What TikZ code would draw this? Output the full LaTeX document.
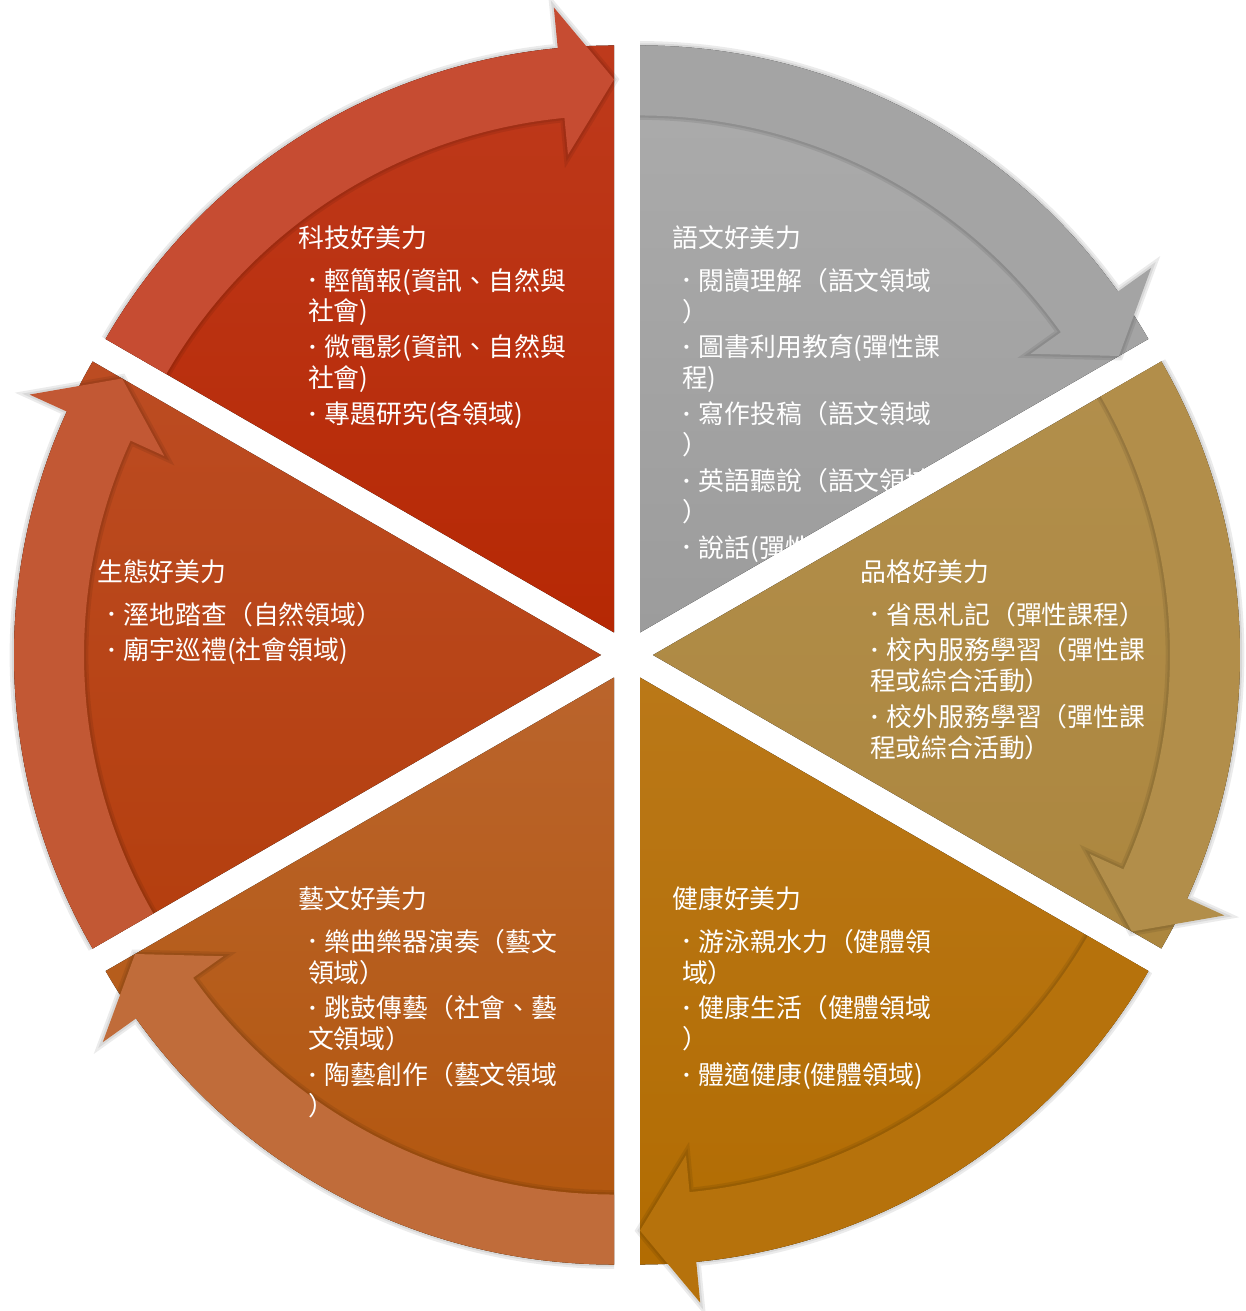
\documentclass[tikz,border=0pt]{standalone}
\usepackage{fontspec}
\setmainfont{Noto Sans CJK TC}
\newfontfamily\dotfont{DejaVu Sans}
\usepackage{xcolor}

\definecolor{LangTop}{RGB}{172,172,172}
\definecolor{LangBot}{RGB}{156,156,156}
\definecolor{LangArr}{RGB}{164,164,164}
\definecolor{CharTop}{RGB}{178,143,76}
\definecolor{CharBot}{RGB}{172,134,62}
\definecolor{CharArr}{RGB}{178,142,74}
\definecolor{HealthTop}{RGB}{186,120,24}
\definecolor{HealthBot}{RGB}{178,108,2}
\definecolor{HealthArr}{RGB}{182,114,12}
\definecolor{ArtTop}{RGB}{186,100,44}
\definecolor{ArtBot}{RGB}{178,86,12}
\definecolor{ArtArr}{RGB}{192,108,58}
\definecolor{EcoTop}{RGB}{188,76,34}
\definecolor{EcoBot}{RGB}{180,62,14}
\definecolor{EcoArr}{RGB}{194,88,52}
\definecolor{TechTop}{RGB}{190,58,28}
\definecolor{TechBot}{RGB}{182,40,4}
\definecolor{TechArr}{RGB}{198,76,50}

\tikzset{
  rimshade/.style={draw=black, line join=miter, opacity=0.08},
  blurb/.style={anchor=north west, inner sep=0pt, align=left, text=white,
    font=\fontsize{14.7}{17.6}\selectfont},
}

% one pie piece with its arrow along the rim (start angle, end angle, colours)
\newcommand{\cyclepiece}[5]{%
  \pgfmathsetmacro{\midang}{(#1+#2)/2}%
  \pgfmathsetmacro{\headang}{#2+5.5}%
  \begin{scope}[shift={(\midang:26)}]
    \fill[top color=#3, bottom color=#4] (0,0) -- (#1:587)
      arc[start angle=#1, end angle=#2, radius=587] -- cycle;
    \path[save path=\rimpath] (#1:587)
      arc[start angle=#1, end angle=\headang, radius=587]
      -- (\headang:628) -- (#2:553) -- (\headang:480) -- (\headang:517)
      arc[start angle=\headang, end angle=#1, radius=517] -- cycle;
    \begin{scope}
      \clip (0,0) -- (#1:700) arc[start angle=#1, end angle=#2-8, radius=700] -- cycle;
      \draw[rimshade, line width=5pt, use path=\rimpath];
      \draw[rimshade, line width=2.5pt, use path=\rimpath];
    \end{scope}
    \fill[fill=#5, use path=\rimpath];
  \end{scope}}

\newcommand{\itm}{\hspace*{5.5pt}\makebox[9.6pt][l]{\hspace{0.2pt}\raisebox{2.4pt}{\dotfont\footnotesize\textbullet}}}
\newcommand{\cnt}{\hspace*{5.5pt}}

\begin{document}
\begin{tikzpicture}[x=0.02cm, y=0.02cm]
  \useasboundingbox (-627,-656) rectangle (618,655);
  \fill[white] (-627,-656) rectangle (618,655);

  % grey piece first: its last line runs under the gold piece
  \cyclepiece{90}{30}{LangTop}{LangBot}{LangArr}
  \node[blurb] (lang) at (45,430) {語文好美力\\[6.8pt]
    \itm 閱讀理解（語文領域\\
    \cnt ）\\[2.8pt]
    \itm 圖書利用教育(彈性課\\
    \cnt 程)\\[2.8pt]
    \itm 寫作投稿（語文領域\\
    \cnt ）\\[2.8pt]
    \itm 英語聽說（語文領域\\
    \cnt ）\\[2.8pt]
    \itm 說話(彈性課程)};

  \cyclepiece{30}{-30}{CharTop}{CharBot}{CharArr}
  \node[blurb] (char) at (233,96) {品格好美力\\[6.8pt]
    \itm 省思札記（彈性課程）\\[2.8pt]
    \itm 校內服務學習（彈性課\\
    \cnt 程或綜合活動）\\[2.8pt]
    \itm 校外服務學習（彈性課\\
    \cnt 程或綜合活動）};

  \cyclepiece{-30}{-90}{HealthTop}{HealthBot}{HealthArr}
  \node[blurb] (health) at (45,-231) {健康好美力\\[6.8pt]
    \itm 游泳親水力（健體領\\
    \cnt 域）\\[2.8pt]
    \itm 健康生活（健體領域\\
    \cnt ）\\[2.8pt]
    \itm 體適健康(健體領域)};

  \cyclepiece{-90}{-150}{ArtTop}{ArtBot}{ArtArr}
  \node[blurb] (art) at (-329,-231) {藝文好美力\\[6.8pt]
    \itm 樂曲樂器演奏（藝文\\
    \cnt 領域）\\[2.8pt]
    \itm 跳鼓傳藝（社會、藝\\
    \cnt 文領域）\\[2.8pt]
    \itm 陶藝創作（藝文領域\\
    \cnt ）};

  \cyclepiece{210}{150}{EcoTop}{EcoBot}{EcoArr}
  \node[blurb] (eco) at (-530,96) {生態好美力\\[6.8pt]
    \itm 溼地踏查（自然領域）\\[2.8pt]
    \itm 廟宇巡禮(社會領域)};

  \cyclepiece{150}{90}{TechTop}{TechBot}{TechArr}
  \node[blurb] (tech) at (-329,430) {科技好美力\\[6.8pt]
    \itm 輕簡報(資訊、自然與\\
    \cnt 社會)\\[2.8pt]
    \itm 微電影(資訊、自然與\\
    \cnt 社會)\\[2.8pt]
    \itm 專題研究(各領域)};
\end{tikzpicture}
\end{document}
